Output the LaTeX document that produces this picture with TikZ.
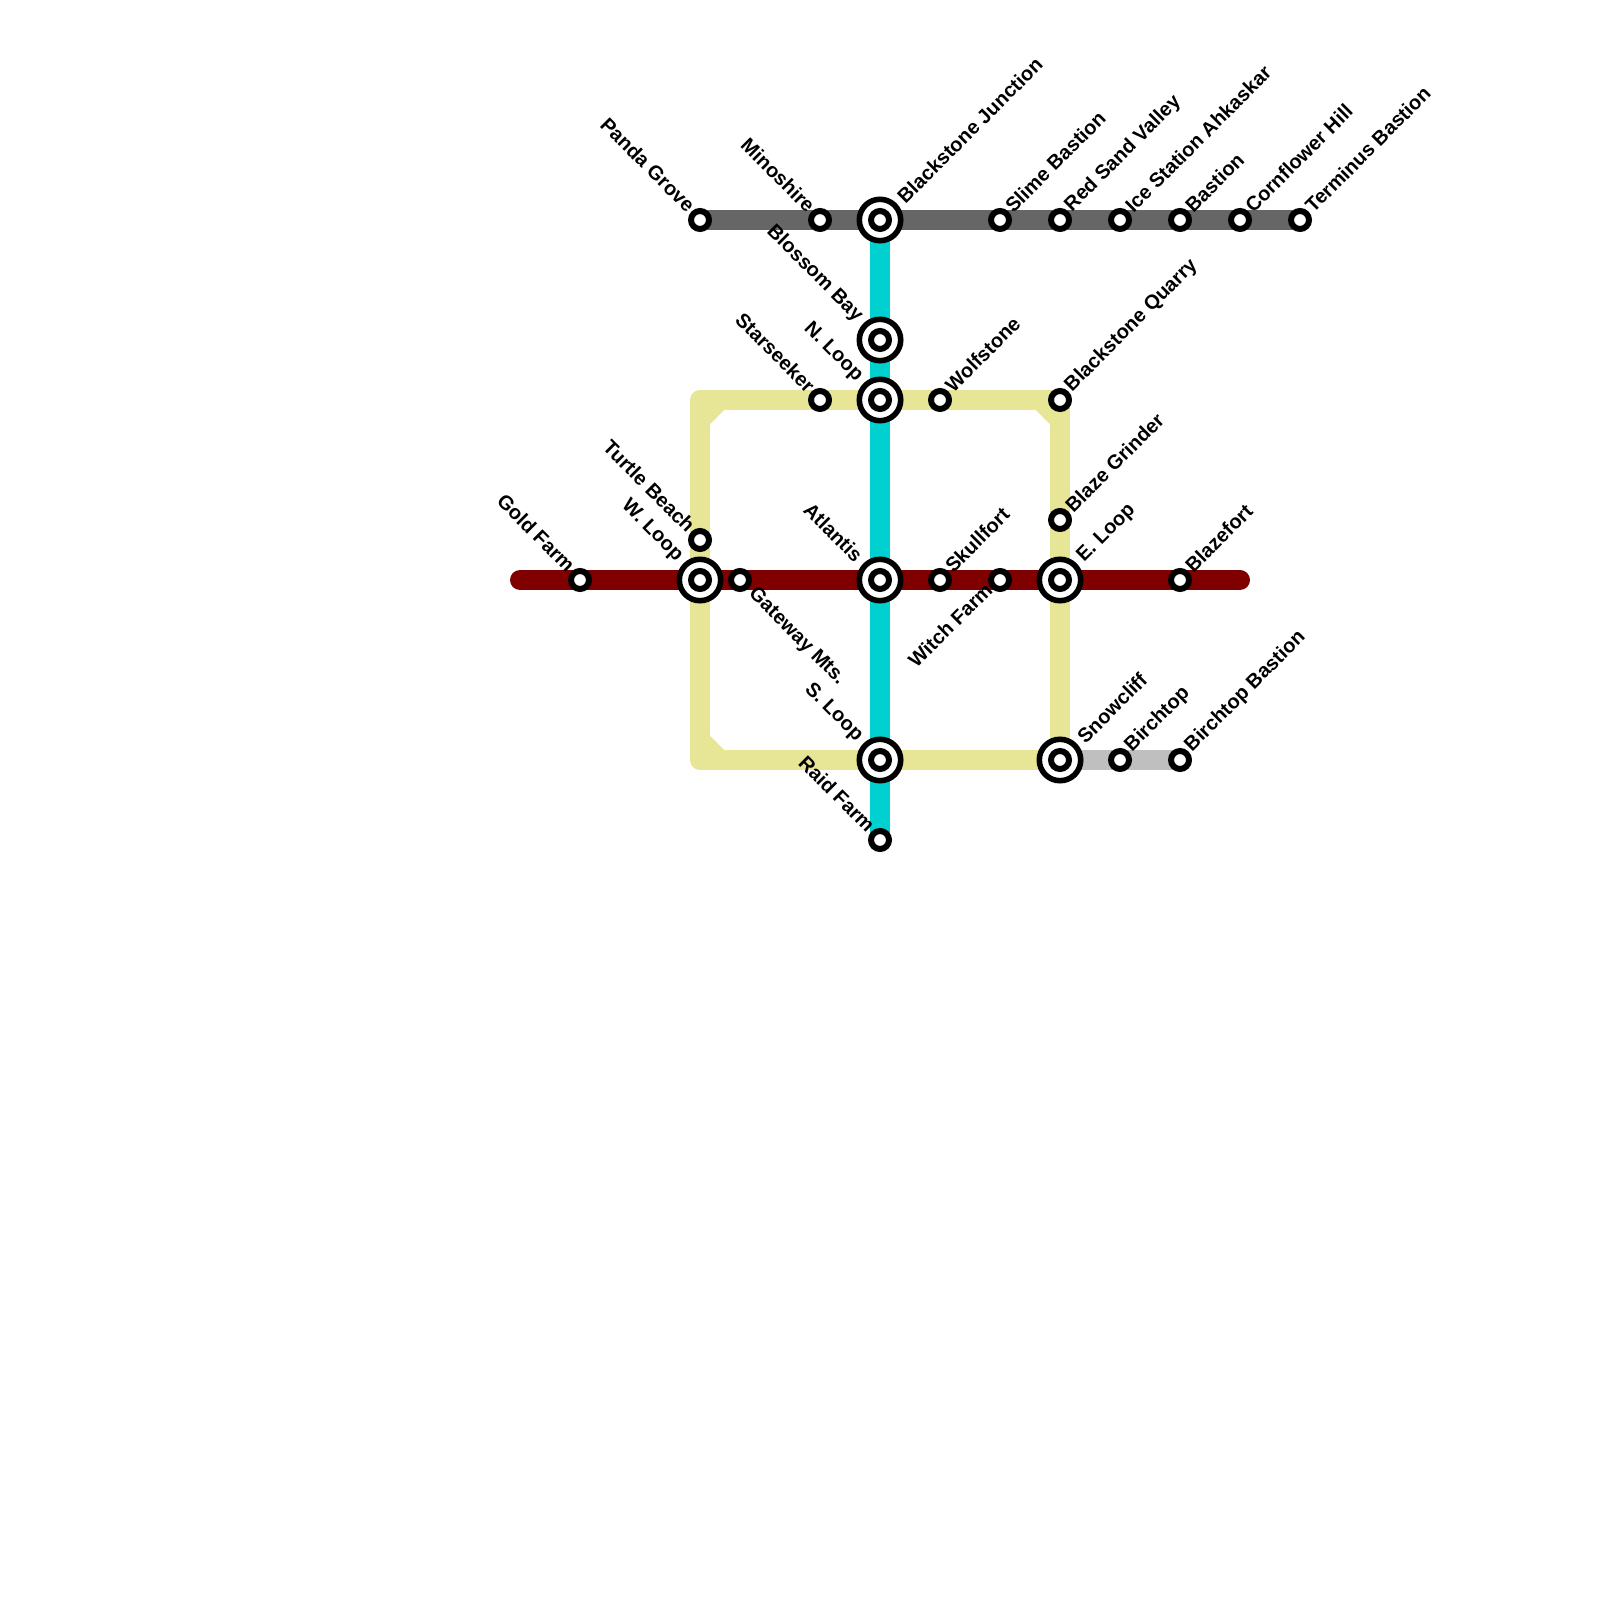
\documentclass[tikz,border=0pt]{standalone}
\usepackage{fontspec}
\setmainfont{Liberation Sans}
\usepackage{xcolor}
\usetikzlibrary{backgrounds}
\definecolor{linegrey}{HTML}{666666}
\definecolor{linesilver}{HTML}{BFBFBF}
\definecolor{linecyan}{HTML}{00D0D0}
\definecolor{linekhaki}{HTML}{E6E696}
\definecolor{linered}{HTML}{800000}

\begin{document}
\begin{tikzpicture}[
  stopnode/.style={circle, draw=black, fill=white, line width=0.06cm, minimum size=0.18cm, inner sep=0pt},
  hubnode/.style={circle, draw=black, fill=white, line width=0.056cm, minimum size=0.414cm, inner sep=0pt},
  route/.style={line width=0.2cm},
  lblbase/.style={font=\fontsize{5.69}{7}\selectfont\bfseries, inner sep=0pt, outer sep=0pt},
  lblne/.style={yshift=0.03cm, lblbase, rotate=45, anchor=west},
  lblnw/.style={yshift=0.03cm, lblbase, rotate=-45, anchor=east},
  lblse/.style={xshift=0.03cm, yshift=-0.03cm, lblbase, rotate=-45, anchor=west},
  lblsw/.style={xshift=-0.03cm, yshift=0.02cm, lblbase, rotate=45, anchor=east},
  lblhubne/.style={xshift=0.04cm, yshift=0.04cm, lblbase, rotate=45, anchor=west},
  lblhubnw/.style={xshift=-0.04cm, yshift=0.05cm, lblbase, rotate=-45, anchor=east}
]
\path[use as bounding box] (0,0) rectangle (16,-16);

% top row
\node[stopnode] (panda) at (7,-2.2) {};
\node[stopnode] (minoshire) at (8.2,-2.2) {};
\node[hubnode] (junction) at (8.8,-2.2) {};
\node[stopnode] (junctionc) at (junction) {};
\node[stopnode] (slime) at (10,-2.2) {};
\node[stopnode] (redsand) at (10.6,-2.2) {};
\node[stopnode] (ice) at (11.2,-2.2) {};
\node[stopnode] (bastion) at (11.8,-2.2) {};
\node[stopnode] (cornflower) at (12.4,-2.2) {};
\node[stopnode] (terminus) at (13,-2.2) {};

% loop, north side
\node[hubnode] (blossom) at (8.8,-3.4) {};
\node[stopnode] (blossomc) at (blossom) {};
\node[hubnode] (nloop) at (8.8,-4) {};
\node[stopnode] (nloopc) at (nloop) {};
\node[stopnode] (starseeker) at (8.2,-4) {};
\node[stopnode] (wolfstone) at (9.4,-4) {};
\node[stopnode] (quarry) at (10.6,-4) {};
\node[stopnode] (grinder) at (10.6,-5.2) {};
\node[stopnode] (turtle) at (7,-5.4) {};

% middle row
\node[stopnode] (gold) at (5.8,-5.8) {};
\node[hubnode] (wloop) at (7,-5.8) {};
\node[stopnode] (wloopc) at (wloop) {};
\node[stopnode] (gateway) at (7.4,-5.8) {};
\node[hubnode] (atlantis) at (8.8,-5.8) {};
\node[stopnode] (atlantisc) at (atlantis) {};
\node[stopnode] (skullfort) at (9.4,-5.8) {};
\node[stopnode] (witch) at (10,-5.8) {};
\node[hubnode] (eloop) at (10.6,-5.8) {};
\node[stopnode] (eloopc) at (eloop) {};
\node[stopnode] (blazefort) at (11.8,-5.8) {};

% loop, south side
\node[hubnode] (sloop) at (8.8,-7.6) {};
\node[stopnode] (sloopc) at (sloop) {};
\node[hubnode] (snowcliff) at (10.6,-7.6) {};
\node[stopnode] (snowcliffc) at (snowcliff) {};
\node[stopnode] (birchtop) at (11.2,-7.6) {};
\node[stopnode] (birchbastion) at (11.8,-7.6) {};
\node[stopnode] (raid) at (8.8,-8.4) {};

% free ends and loop corners
\coordinate (redwest) at (5.2,-5.8);
\coordinate (redeast) at (12.4,-5.8);
\coordinate (cornernw) at (7,-4);
\coordinate (cornersw) at (7,-7.6);
\coordinate (nwa) at (7,-4.2);
\coordinate (nwb) at (7.2,-4);
\coordinate (nea) at (10.4,-4);
\coordinate (neb) at (10.6,-4.2);
\coordinate (swa) at (7,-7.4);
\coordinate (swb) at (7.2,-7.6);

\begin{scope}[on background layer]
\fill[white] (0,0) rectangle (16,-16);
\draw[route, linesilver] (snowcliff.center) -- (birchbastion.center);
\draw[route, linekhaki, line join=round] (cornernw) -- (quarry.center) -- (snowcliff.center) -- (cornersw) -- cycle;
\draw[route, linekhaki] (nwa) -- (nwb);
\draw[route, linekhaki] (nea) -- (neb);
\draw[route, linekhaki] (swa) -- (swb);
\draw[route, linecyan] (junction.center) -- (raid.center);
\draw[route, linegrey] (panda.center) -- (terminus.center);
\draw[route, linered, line cap=round] (redwest) -- (redeast);
\end{scope}

\node[lblnw] (lpanda) at (panda.135) {Panda Grove};
\node[lblnw] (lminoshire) at (minoshire.135) {Minoshire};
\node[lblhubne] (ljunction) at (junction.45) {Blackstone Junction};
\node[lblne] (lslime) at (slime.45) {Slime Bastion};
\node[lblne] (lredsand) at (redsand.45) {Red Sand Valley};
\node[lblne] (lice) at (ice.45) {Ice Station Ahkaskar};
\node[lblne] (lbastion) at (bastion.45) {Bastion};
\node[lblne] (lcornflower) at (cornflower.45) {Cornflower Hill};
\node[lblne] (lterminus) at (terminus.45) {Terminus Bastion};
\node[lblhubnw] (lblossom) at (blossom.135) {Blossom Bay};
\node[lblhubnw] (lnloop) at (nloop.135) {N. Loop};
\node[lblnw] (lstarseeker) at (starseeker.135) {Starseeker};
\node[lblne] (lwolfstone) at (wolfstone.45) {Wolfstone};
\node[lblne] (lquarry) at (quarry.45) {Blackstone Quarry};
\node[lblne] (lgrinder) at (grinder.45) {Blaze Grinder};
\node[lblnw] (lturtle) at (turtle.135) {Turtle Beach};
\node[lblnw] (lgold) at (gold.135) {Gold Farm};
\node[lblhubnw] (lwloop) at (wloop.135) {W. Loop};
\node[lblse] (lgateway) at (gateway.-45) {Gateway Mts.};
\node[lblhubnw] (latlantis) at (atlantis.135) {Atlantis};
\node[lblne] (lskullfort) at (skullfort.45) {Skullfort};
\node[lblsw] (lwitch) at (witch.-135) {Witch Farm};
\node[lblhubne] (leloop) at (eloop.45) {E. Loop};
\node[lblne] (lblazefort) at (blazefort.45) {Blazefort};
\node[lblhubnw] (lsloop) at (sloop.135) {S. Loop};
\node[lblhubne] (lsnowcliff) at (snowcliff.45) {Snowcliff};
\node[lblne] (lbirchtop) at (birchtop.45) {Birchtop};
\node[lblne] (lbirchbastion) at (birchbastion.45) {Birchtop Bastion};
\node[lblnw] (lraid) at (raid.135) {Raid Farm};
\end{tikzpicture}
\end{document}
